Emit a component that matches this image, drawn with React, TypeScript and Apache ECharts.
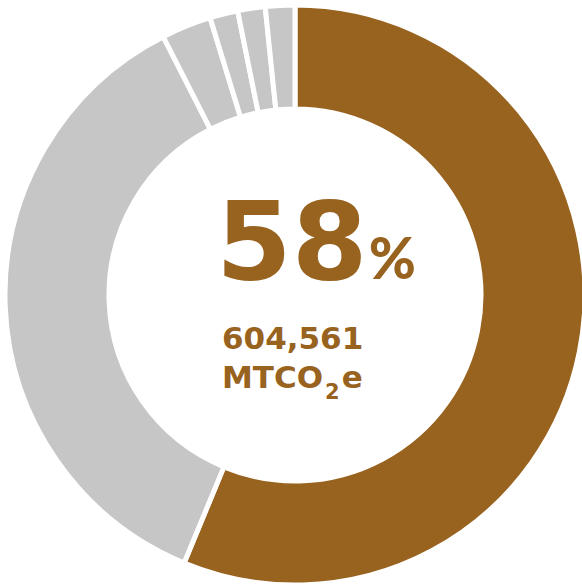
import React, { useEffect, useRef } from "react";
import * as echarts from "echarts";

const categories = ["Highlighted", "Other", "Segment D", "Segment C", "Segment B", "Segment A"];
const shares = [56.25, 36.25, 2.78, 1.56, 1.53, 1.64];
const sliceColors = ["#98621F", "#C6C6C6", "#C6C6C6", "#C6C6C6", "#C6C6C6", "#C6C6C6"];
const headline = "58";
const headlineUnit = "%";
const amountLabel = "604,561";

export default function App() {
  const ref = useRef<HTMLDivElement>(null);
  useEffect(() => {
    if (!ref.current) return;
    const chart = echarts.init(ref.current, null, { renderer: "svg" });
    const brown = "#98621F";
    const font = "'DejaVu Sans', sans-serif";
    const pctFont = "Lato, sans-serif";
    chart.setOption({
      animation: false,
      backgroundColor: "#ffffff",
      series: [
        {
          type: "pie",
          center: [295, 295],
          radius: [186, 290],
          startAngle: 90,
          clockwise: true,
          silent: true,
          label: { show: false },
          labelLine: { show: false },
          emphasis: { disabled: true },
          itemStyle: { borderColor: "#ffffff", borderWidth: 5 },
          data: categories.map((name, i) => ({
            name,
            value: shares[i],
            itemStyle: { color: sliceColors[i] },
          })),
        },
      ],
      graphic: [
        {
          type: "text",
          left: 216,
          top: 187,
          style: {
            text: `{big|${headline}}{pct|${headlineUnit}}`,
            rich: {
              big: { fontSize: 109, fontWeight: "bold", fontFamily: font, fill: brown, lineHeight: 120 },
              pct: { fontSize: 57, fontWeight: 900, fontFamily: pctFont, fill: brown, lineHeight: 120, padding: [30, 0, 0, 1] },
            },
          },
        },
        {
          type: "text",
          left: 222,
          top: 322,
          style: {
            text: amountLabel,
            fontSize: 31,
            fontWeight: "bold",
            fontFamily: font,
            fill: brown,
          },
        },
        {
          type: "text",
          left: 222,
          top: 351,
          style: {
            text: "{a|MTCO}{b|2}{a|e}",
            rich: {
              a: { fontSize: 31, fontWeight: "bold", fontFamily: font, fill: brown, lineHeight: 40 },
              b: { fontSize: 21, fontWeight: "bold", fontFamily: font, fill: brown, lineHeight: 40, padding: [30, 2, 0, 2] },
            },
          },
        },
      ],
    });
    return () => chart.dispose();
  }, []);
  return (
    <div
      ref={ref}
      style={{ position: "fixed", left: 0, top: 0, width: 582, height: 586, background: "#fff" }}
    />
  );
}
